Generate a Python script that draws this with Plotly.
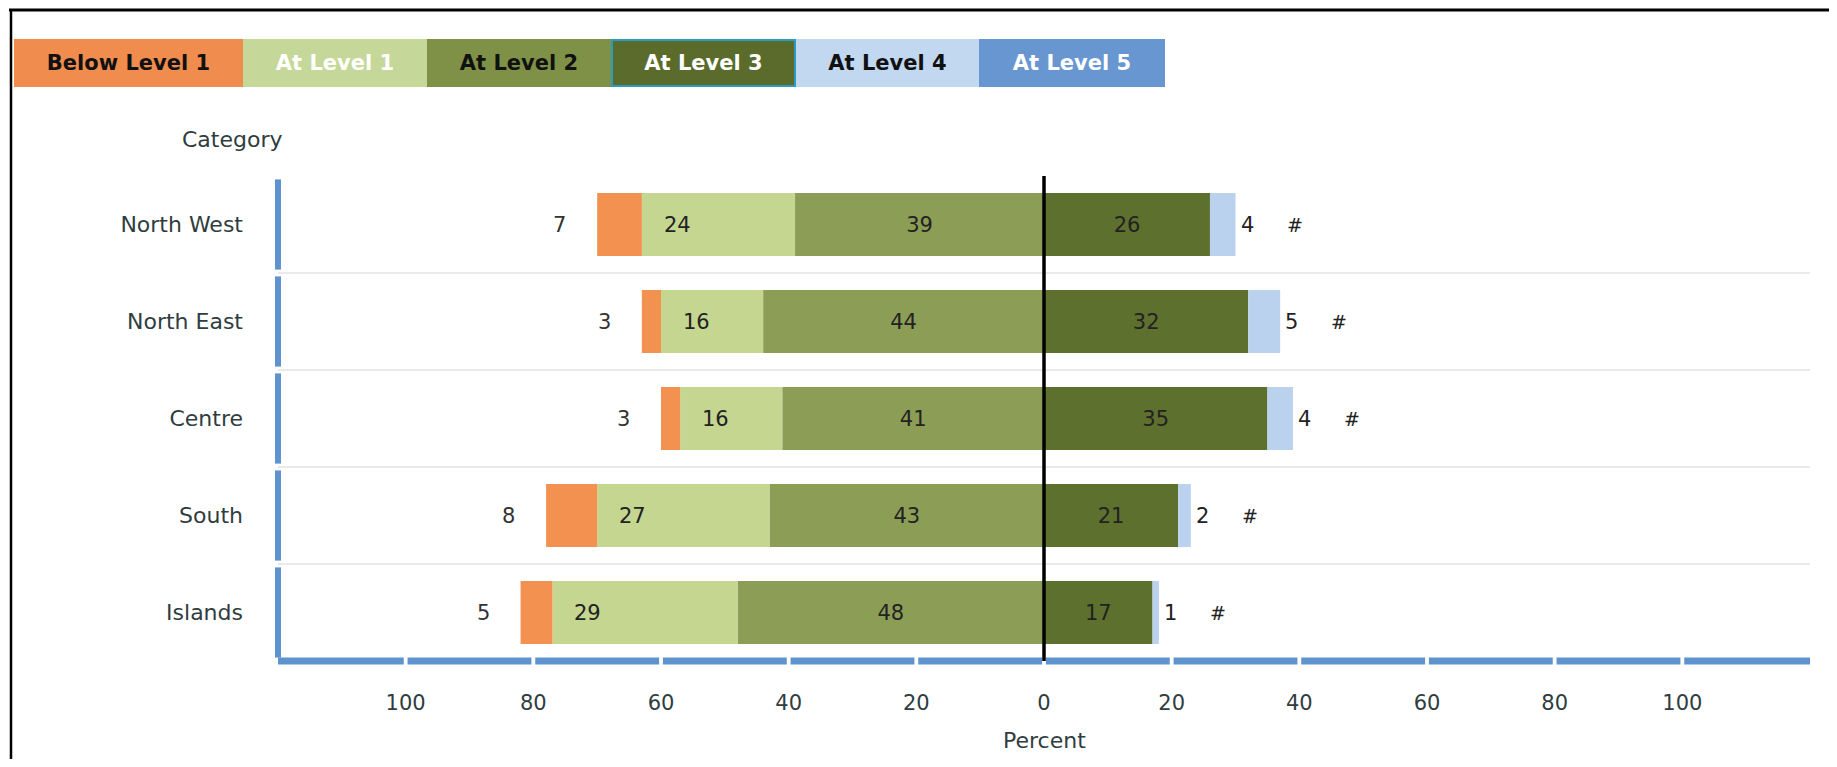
import plotly.graph_objects as go

# Page has an 8px body margin; work in reference-pixel coordinates and offset.
OFF = 8
REF_W, REF_H = 1837, 767
W, H = REF_W - 2 * OFF, REF_H - 2 * OFF
PLOT_L, PLOT_R, PLOT_T, PLOT_B = 278, 1810, 176, 661   # reference pixels
ML, MT = PLOT_L - OFF, PLOT_T - OFF
MR, MB = W - (PLOT_R - OFF), H - (PLOT_B - OFF)
PW, PH = PLOT_R - PLOT_L, PLOT_B - PLOT_T

categories = ["North West", "North East", "Centre", "South", "Islands"]
below_level1 = [7, 3, 3, 8, 5]
level1 = [24, 16, 16, 27, 29]
level2 = [39, 44, 41, 43, 48]
level3 = [26, 32, 35, 21, 17]
level4 = [4, 5, 4, 2, 1]
level5_labels = ["#", "#", "#", "#", "#"]

tick_vals = [-100, -80, -60, -40, -20, 0, 20, 40, 60, 80, 100]
tick_text = ["100", "80", "60", "40", "20", "0", "20", "40", "60", "80", "100"]
segment_edges = [-120, -100, -80, -60, -40, -20, 0, 20, 40, 60, 80, 100, 120]

legend_labels = ["Below Level 1", "At Level 1", "At Level 2", "At Level 3", "At Level 4", "At Level 5"]
legend_colors = ["#EF8C4E", "#C5D899", "#7F9146", "#5A6B2B", "#C2D7F0", "#6796D0"]
legend_text_colors = ["#111111", "#FFFFFF", "#111111", "#FFFFFF", "#111111", "#FFFFFF"]

bar_colors = {"b1": "#F29150", "l1": "#C4D690", "l2": "#8C9D55", "l3": "#5E702D", "l4": "#BBD2EE"}
AXIS_BLUE = "#5F93CF"
FONT = "DejaVu Sans"
LABEL_COLOR = "#222222"
TICK_COLOR = "#2F3D40"


def px_x(p):
    return (p - PLOT_L) / PW


def px_y(p):
    return (PLOT_B - p) / PH


fig = go.Figure()

neg = lambda v: [-a for a in v]
in_font = dict(family=FONT, size=21, color=LABEL_COLOR)

# negative side (stacked outward from zero): level2, level1, below level1
fig.add_trace(go.Bar(y=categories, x=neg(level2), orientation="h", name="At Level 2",
                     marker=dict(color=bar_colors["l2"], line=dict(width=0)),
                     text=[str(v) for v in level2], textposition="inside", insidetextanchor="middle",
                     textangle=0, insidetextfont=in_font, hoverinfo="skip"))
fig.add_trace(go.Bar(y=categories, x=level3, orientation="h", name="At Level 3",
                     marker=dict(color=bar_colors["l3"], line=dict(width=0)),
                     text=[str(v) for v in level3], textposition="inside", insidetextanchor="middle",
                     textangle=0, insidetextfont=in_font, hoverinfo="skip"))
fig.add_trace(go.Bar(y=categories, x=neg(level1), orientation="h", name="At Level 1",
                     marker=dict(color=bar_colors["l1"], line=dict(width=0)), hoverinfo="skip"))
fig.add_trace(go.Bar(y=categories, x=level4, orientation="h", name="At Level 4",
                     marker=dict(color=bar_colors["l4"], line=dict(width=0)), hoverinfo="skip"))
fig.add_trace(go.Bar(y=categories, x=neg(below_level1), orientation="h", name="Below Level 1",
                     marker=dict(color=bar_colors["b1"], line=dict(width=0)), hoverinfo="skip"))

annotations = []
lab_font = dict(family=FONT, size=21, color=LABEL_COLOR)
for i, c in enumerate(categories):
    left_l1 = -(level2[i] + level1[i])
    left_b1 = left_l1 - below_level1[i]
    right_l4 = level3[i] + level4[i]
    annotations.append(dict(x=left_l1, y=c, xref="x", yref="y", text=str(level1[i]),
                            showarrow=False, xanchor="left", xshift=20, font=lab_font))
    annotations.append(dict(x=left_b1, y=c, xref="x", yref="y", text=str(below_level1[i]),
                            showarrow=False, xanchor="right", xshift=-29,
                            font=dict(family=FONT, size=21, color="#333333")))
    annotations.append(dict(x=right_l4, y=c, xref="x", yref="y", text=str(level4[i]),
                            showarrow=False, xanchor="left", xshift=3, font=lab_font))
    annotations.append(dict(x=right_l4, y=c, xref="x", yref="y", text=level5_labels[i],
                            showarrow=False, xanchor="left", xshift=49,
                            font=dict(family=FONT, size=19, color=LABEL_COLOR)))

# legend boxes (reference pixel edges)
legend_edges = [14, 243, 427, 611, 796, 979, 1165]
for k, lab in enumerate(legend_labels):
    x0, x1 = legend_edges[k], legend_edges[k + 1]
    annotations.append(dict(
        x=px_x((x0 + x1) / 2), y=px_y(63), xref="paper", yref="paper",
        text="<b>" + lab + "</b>", showarrow=False, xanchor="center", yanchor="middle",
        width=x1 - x0 - (4 if k == 3 else 0), height=48 - (4 if k == 3 else 0),
        bgcolor=legend_colors[k], borderpad=0,
        bordercolor="#2A9CC2" if k == 3 else legend_colors[k],
        borderwidth=2 if k == 3 else 0,
        font=dict(family=FONT, size=21, color=legend_text_colors[k])))

annotations.append(dict(x=px_x(232), y=px_y(139), xref="paper", yref="paper", text="Category",
                        showarrow=False, xanchor="center", yanchor="middle",
                        font=dict(family=FONT, size=22, color=TICK_COLOR)))
annotations.append(dict(x=0, y=px_y(740), xref="x", yref="paper", text="Percent",
                        showarrow=False, xanchor="center", yanchor="middle",
                        font=dict(family=FONT, size=22, color=TICK_COLOR)))

shapes = []
# segmented bottom axis
gap = 0.3
for k in range(len(segment_edges) - 1):
    a = segment_edges[k] + (-0.8 if k == 0 else gap)
    b = segment_edges[k + 1] - (0 if k == len(segment_edges) - 2 else gap)
    shapes.append(dict(type="line", xref="x", yref="paper", x0=a, x1=b, y0=0, y1=0,
                       line=dict(color=AXIS_BLUE, width=7), layer="above"))
# segmented left axis (one segment per category)
for i in range(len(categories)):
    shapes.append(dict(type="line", xref="paper", yref="y", x0=0, x1=0,
                       y0=i - 0.5 + 0.035, y1=i + 0.5 - 0.035,
                       line=dict(color=AXIS_BLUE, width=6), layer="above"))
# zero line above bars
shapes.append(dict(type="line", xref="x", yref="paper", x0=0, x1=0, y0=0, y1=1,
                   line=dict(color="#000000", width=3.5), layer="above"))
# frame (top and left)
shapes.append(dict(type="line", xref="paper", yref="paper", x0=px_x(9), x1=px_x(REF_W + 10),
                   y0=px_y(10), y1=px_y(10), line=dict(color="#000000", width=3)))
shapes.append(dict(type="line", xref="paper", yref="paper", x0=px_x(11), x1=px_x(11),
                   y0=px_y(9), y1=px_y(REF_H + 10), line=dict(color="#000000", width=2.5)))

fig.update_layout(
    width=W, height=H,
    margin=dict(l=ML, r=MR, t=MT, b=MB, pad=0),
    barmode="relative", bargap=0.35,
    showlegend=False,
    plot_bgcolor="white", paper_bgcolor="white",
    annotations=annotations, shapes=shapes,
    xaxis=dict(range=[-120, 120], tickvals=tick_vals, ticktext=tick_text,
               showgrid=False, zeroline=False, showline=False, ticks="",
               ticklabelstandoff=27, tickfont=dict(family=FONT, size=21, color=TICK_COLOR),
               fixedrange=True),
    yaxis=dict(type="category", categoryorder="array", categoryarray=categories,
               range=[len(categories) - 0.5, -0.5],
               showgrid=True, gridcolor="#EAEAEA", gridwidth=2, tickson="boundaries",
               zeroline=False, showline=False, ticks="",
               ticklabelstandoff=34, tickfont=dict(family=FONT, size=22, color=TICK_COLOR),
               fixedrange=True),
)

fig.write_html("out.html")
